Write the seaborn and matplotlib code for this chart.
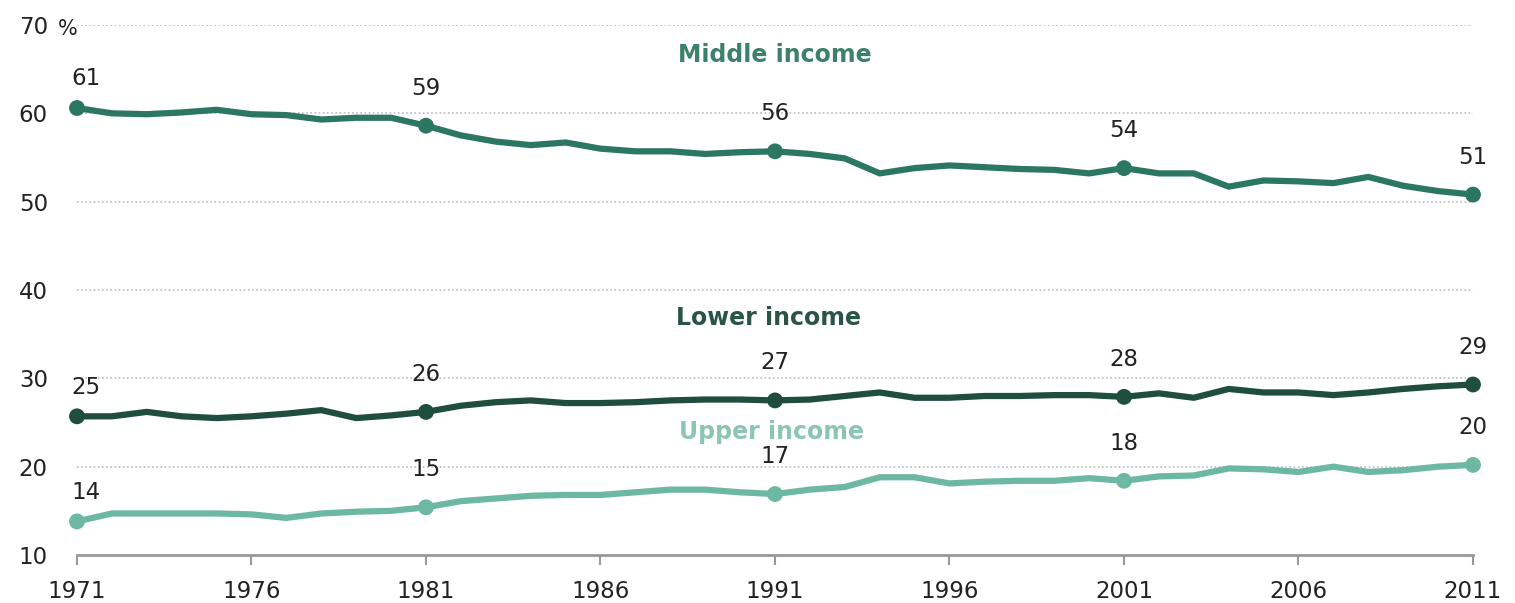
import matplotlib
matplotlib.use("Agg")
import matplotlib.pyplot as plt
import seaborn as sns
import pandas as pd
import numpy as np

years = list(range(1971, 2012))

middle = [60.6, 60.0, 59.9, 60.1, 60.4, 59.9, 59.8, 59.3, 59.5, 59.5,
          58.6, 57.5, 56.8, 56.4, 56.7, 56.0, 55.7, 55.7, 55.4, 55.6,
          55.7, 55.4, 54.9, 53.2, 53.8, 54.1, 53.9, 53.7, 53.6, 53.2,
          53.8, 53.2, 53.2, 51.7, 52.4, 52.3, 52.1, 52.8, 51.8, 51.2,
          50.8]
lower = [25.7, 25.7, 26.2, 25.7, 25.5, 25.7, 26.0, 26.4, 25.5, 25.8,
         26.2, 26.9, 27.3, 27.5, 27.2, 27.2, 27.3, 27.5, 27.6, 27.6,
         27.5, 27.6, 28.0, 28.4, 27.8, 27.8, 28.0, 28.0, 28.1, 28.1,
         27.9, 28.3, 27.8, 28.8, 28.4, 28.4, 28.1, 28.4, 28.8, 29.1,
         29.3]
upper = [13.8, 14.7, 14.7, 14.7, 14.7, 14.6, 14.2, 14.7, 14.9, 15.0,
         15.4, 16.1, 16.4, 16.7, 16.8, 16.8, 17.1, 17.4, 17.4, 17.1,
         16.9, 17.4, 17.7, 18.8, 18.8, 18.1, 18.3, 18.4, 18.4, 18.7,
         18.4, 18.9, 19.0, 19.8, 19.7, 19.4, 20.0, 19.4, 19.6, 20.0,
         20.2]

series_names = ["Middle income", "Lower income", "Upper income"]
marker_years = [1971, 1981, 1991, 2001, 2011]
middle_labels = ["61", "59", "56", "54", "51"]
lower_labels = ["25", "26", "27", "28", "29"]
upper_labels = ["14", "15", "17", "18", "20"]
x_ticks = [1971, 1976, 1981, 1986, 1991, 1996, 2001, 2006, 2011]
y_ticks = [10, 20, 30, 40, 50, 60, 70]

line_colors = {"Middle income": "#2b7762", "Lower income": "#1f4d3e", "Upper income": "#6cb8a2"}
title_colors = {"Middle income": "#3d806b", "Lower income": "#2a5546", "Upper income": "#8cc5b5"}
title_pos = {"Middle income": (1991, 66.6), "Lower income": (1990.8, 36.8), "Upper income": (1990.9, 23.9)}

df = pd.DataFrame({
    "year": years * 3,
    "value": middle + lower + upper,
    "series": [series_names[0]] * len(years) + [series_names[1]] * len(years) + [series_names[2]] * len(years),
})
mk = df[df["year"].isin(marker_years)]

sns.set_theme(style="white")
plt.rcParams['font.family'] = ['DejaVu Sans']

fig = plt.figure(figsize=(15.15, 6.03), dpi=100)
ax = fig.add_axes([77 / 1515, 1 - 555 / 603, (1473 - 77) / 1515, (555 - 25) / 603])

sns.lineplot(data=df, x="year", y="value", hue="series", palette=line_colors,
             linewidth=4.5, ax=ax, legend=False, clip_on=False)
sns.scatterplot(data=mk, x="year", y="value", hue="series", palette=line_colors,
                s=130, edgecolor="none", ax=ax, legend=False, clip_on=False, zorder=5)

ax.set_xlim(1971, 2011)
ax.set_ylim(10, 70)
ax.set_xticks(x_ticks)
ax.set_xticklabels([str(t) for t in x_ticks], fontsize=16.5, color="#222222")
ax.set_yticks(y_ticks)
ax.set_yticklabels([str(t) for t in y_ticks], fontsize=16.5, color="#222222")
ax.set_xlabel("")
ax.set_ylabel("")

for v in y_ticks[1:]:
    ax.axhline(v, color="#bbbbbb", linestyle=(0, (1, 1.5)), linewidth=1.2, zorder=0)

for s in ["top", "right", "left"]:
    ax.spines[s].set_visible(False)
ax.spines["bottom"].set_color("#999999")
ax.spines["bottom"].set_linewidth(2)
ax.tick_params(axis="x", which="both", bottom=True, direction="out", length=7, width=1.5,
               color="#999999", pad=11)
ax.tick_params(axis="y", length=0, pad=21)
ax.text(-0.0135, 69.6, "%", transform=ax.get_yaxis_transform(), fontsize=15,
        ha="left", va="center", color="#222222")

# value labels
for name, labels in zip(series_names, [middle_labels, lower_labels, upper_labels]):
    sub = mk[mk["series"] == name]
    for (yr, val), lab in zip(zip(sub["year"], sub["value"]), labels):
        dx = 6.5 if yr == marker_years[0] else 0
        dy = 21 if yr == marker_years[0] else 27
        ax.annotate(lab, (yr, val), xytext=(dx, dy), textcoords="offset points",
                    ha="center", va="center", fontsize=16.5, color="#222222")

for name in series_names:
    x, y = title_pos[name]
    ax.text(x, y, name, ha="center", va="center", fontsize=17, fontweight="bold",
            color=title_colors[name])

fig.savefig("out.png", dpi=100, facecolor="white")
